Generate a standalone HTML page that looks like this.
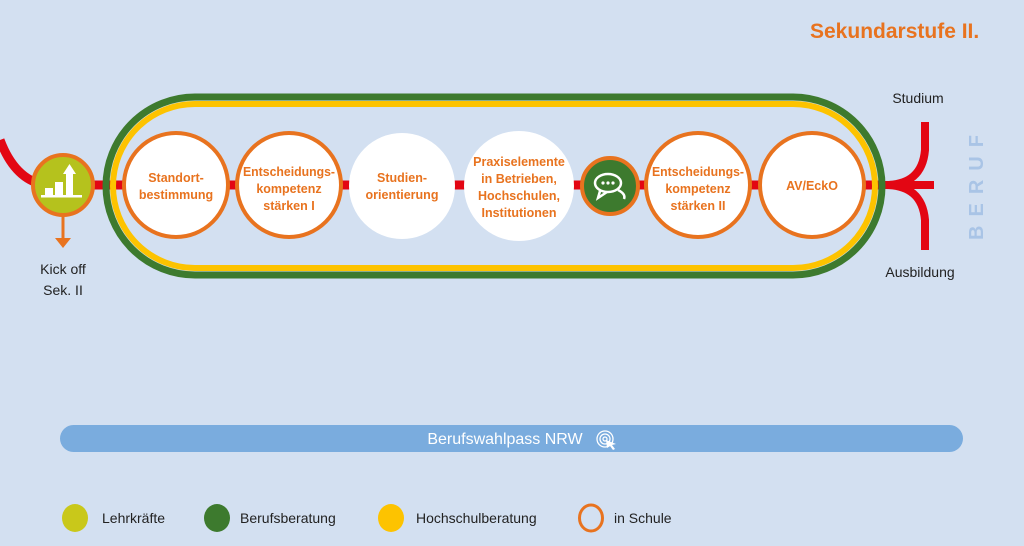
<!DOCTYPE html>
<html><head><meta charset="utf-8"><style>
html,body{margin:0;padding:0;background:#d3e0f1;}
svg{display:block;font-family:"Liberation Sans",sans-serif;}
</style></head><body>
<svg width="1024" height="546" viewBox="0 0 1024 546" xmlns="http://www.w3.org/2000/svg">
<rect width="1024" height="546" fill="#d3e0f1"/>
<text x="810" y="38" font-size="21" font-weight="bold" fill="#e8731f">Sekundarstufe II.</text>
<!-- red line -->
<path d="M0,140 Q15,180 45,185 L885,185" stroke="#e30613" stroke-width="9" fill="none"/>
<path d="M880,185 L934,185 M885,185 Q922,185 925,150 L925,122 M885,185 Q922,185 925,220 L925,250" stroke="#e30613" stroke-width="8" fill="none"/>
<!-- stadium -->
<rect x="106" y="97" width="776" height="178" rx="89" fill="none" stroke="#3d7a2e" stroke-width="7"/>
<rect x="113" y="104" width="762" height="164" rx="82" fill="none" stroke="#fdc300" stroke-width="6"/>
<!-- kick off -->
<line x1="63" y1="212" x2="63" y2="240" stroke="#e8731f" stroke-width="3"/>
<path d="M55,238 L63,248 L71,238Z" fill="#e8731f"/>
<circle cx="63" cy="185" r="30" fill="#b5c21d" stroke="#e8731f" stroke-width="4"/>
<g fill="#fff"><rect x="45" y="188" width="8" height="7"/><rect x="55" y="182" width="8" height="13"/><rect x="66" y="173" width="7" height="22"/><path d="M63,174 L69.5,164 L76,174Z"/><rect x="41" y="195" width="41" height="2.5"/></g>
<text x="63" y="274" font-size="14" text-anchor="middle" fill="#222">Kick off</text>
<text x="63" y="295" font-size="14" text-anchor="middle" fill="#222">Sek. II</text>
<!-- circles -->
<g font-weight="bold" font-size="12.5" fill="#e8731f" text-anchor="middle">
<circle cx="176" cy="185" r="52" fill="#fff" stroke="#e8731f" stroke-width="4"/>
<text x="176" y="182">Standort-</text><text x="176" y="199">bestimmung</text>
<circle cx="289" cy="185" r="52" fill="#fff" stroke="#e8731f" stroke-width="4"/>
<text x="289" y="176" textLength="92" lengthAdjust="spacingAndGlyphs">Entscheidungs-</text><text x="289" y="193">kompetenz</text><text x="289" y="210">stärken I</text>
<circle cx="402" cy="186" r="53" fill="#fff"/>
<text x="402" y="182">Studien-</text><text x="402" y="199">orientierung</text>
<circle cx="519" cy="186" r="55" fill="#fff"/>
<text x="519" y="166">Praxiselemente</text><text x="519" y="183">in Betrieben,</text><text x="519" y="200">Hochschulen,</text><text x="519" y="217">Institutionen</text>
<circle cx="610" cy="186" r="28" fill="#3d7a2e" stroke="#e8731f" stroke-width="4"/>
<circle cx="698" cy="185" r="52" fill="#fff" stroke="#e8731f" stroke-width="4"/>
<text x="698" y="176" textLength="92" lengthAdjust="spacingAndGlyphs">Entscheidungs-</text><text x="698" y="193">kompetenz</text><text x="698" y="210">stärken II</text>
<circle cx="812" cy="185" r="52" fill="#fff" stroke="#e8731f" stroke-width="4"/>
<text x="812" y="190">AV/EckO</text>
</g>
<g fill="none" stroke="#fff" stroke-width="2.5"><ellipse cx="608" cy="183" rx="13" ry="9"/><path d="M600,191 L598,198 L607,192"/><path d="M618,190 Q626,194 624,199"/></g>
<g fill="#fff"><circle cx="603" cy="183" r="1.6"/><circle cx="608" cy="183" r="1.6"/><circle cx="613" cy="183" r="1.6"/></g>
<!-- right labels -->
<text x="918" y="103" font-size="14" text-anchor="middle" fill="#222">Studium</text>
<text x="920" y="277" font-size="14" text-anchor="middle" fill="#222">Ausbildung</text>
<text transform="translate(983,183) rotate(-90)" font-size="20" font-weight="bold" fill="#a9c4e6" text-anchor="middle" letter-spacing="9">BERUF</text>
<!-- bar -->
<rect x="60" y="425" width="903" height="27" rx="13.5" fill="#7aacde"/>
<text x="505" y="444" font-size="16" fill="#fff" text-anchor="middle">Berufswahlpass NRW</text>
<g fill="none" stroke="#fff" stroke-width="1.3"><circle cx="605" cy="439" r="8"/><circle cx="605" cy="439" r="5"/><circle cx="605" cy="439" r="2"/></g>
<path d="M606,440 L616,444 L612,445 L615,449 L613,450 L610,446 L607,448Z" fill="#fff"/>
<!-- legend -->
<ellipse cx="75" cy="518" rx="13" ry="14" fill="#c9c81a"/>
<text x="102" y="523" font-size="14" fill="#222">Lehrkräfte</text>
<ellipse cx="217" cy="518" rx="13" ry="14" fill="#3d7a2e"/>
<text x="240" y="523" font-size="14" fill="#222">Berufsberatung</text>
<ellipse cx="391" cy="518" rx="13" ry="14" fill="#fdc300"/>
<text x="416" y="523" font-size="14" fill="#222">Hochschulberatung</text>
<ellipse cx="591" cy="518" rx="11.5" ry="13" fill="none" stroke="#e8731f" stroke-width="3"/>
<text x="614" y="523" font-size="14" fill="#222">in Schule</text>
</svg>
</body></html>
